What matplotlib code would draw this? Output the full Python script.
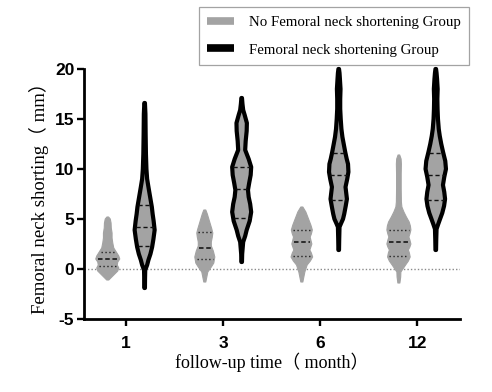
import numpy as np
from matplotlib import pyplot as plt
from matplotlib.lines import Line2D

plt.rcParams['axes.unicode_minus'] = False

months = ['1', '3', '6', '12']

# violin outlines: y levels (mm) and density (half width, px)
no_short_y = [
  [-1.1, -0.8, -0.5, -0.2, 0.1, 0.4, 0.7, 1.0, 1.3, 1.7, 2.1, 2.6, 3.1, 3.6, 4.1, 4.6, 5.0, 5.2],
  [-1.3, -0.8, -0.3, 0.2, 0.6, 1.2, 1.8, 2.3, 2.7, 3.2, 3.6, 4.0, 4.5, 5.0, 5.5, 5.9],
  [-1.3, -0.8, -0.3, 0.4, 0.8, 1.2, 1.6, 1.9, 2.2, 2.5, 2.9, 3.2, 3.5, 3.9, 4.4, 5.0, 5.7, 6.2],
  [-1.4, -0.8, -0.3, 0.4, 0.8, 1.2, 1.6, 1.9, 2.2, 2.5, 2.9, 3.2, 3.5, 3.9, 4.3, 4.7, 5.2, 5.7,
   6.2, 6.7, 8.0, 9.5, 10.5, 11.0, 11.4],
]
no_short_w = [
  [1, 4, 7, 10, 11, 9.5, 10, 12, 11, 8.5, 6, 5, 4.3, 4.3, 3.5, 3.3, 2.5, 0.8],
  [1, 2, 3, 6.5, 9, 10, 8.5, 6.5, 6.5, 7.5, 8, 7, 5.5, 4, 2.5, 1],
  [1, 2, 3, 5.3, 8.5, 10.8, 9.5, 8, 9, 10, 9, 8.3, 9.5, 10.5, 9, 6.7, 4, 1],
  [1, 1.8, 2, 6.7, 9.5, 11.3, 10.5, 9.5, 11, 12, 11, 10, 11, 12, 11.5, 10.3, 7.5, 5,
   3, 2.5, 2.3, 2.3, 2.5, 2.2, 0.8],
]
no_short_q = [[0.3, 1.05, 1.7], [1.0, 2.1, 3.7], [1.3, 2.7, 3.9], [1.3, 2.7, 3.9]]

short_y = [
  [-1.9, -1.0, -0.1, 0.4, 0.9, 1.5, 2.2, 3.0, 3.9, 4.8, 5.5, 6.2, 7.2, 8.2, 9.0, 10.0, 11.5,
   13.5, 15.5, 16.6],
  [0.7, 1.5, 2.7, 3.3, 3.9, 4.8, 5.7, 6.5, 7.2, 7.9, 8.6, 9.4, 10.2, 11.0, 11.9, 12.8, 13.8,
   14.6, 15.4, 15.9, 16.5, 17.1],
  [1.9, 3.0, 4.2, 4.6, 5.0, 5.5, 6.3, 7.0, 7.6, 8.2, 9.0, 9.7, 10.5, 11.0, 11.7, 12.5, 13.2,
   14.0, 15.0, 16.0, 17.0, 18.0, 19.0, 19.6, 20.0],
  [1.9, 3.0, 4.0, 4.5, 5.0, 5.6, 6.3, 7.0, 7.7, 8.4, 9.2, 10.0, 10.8, 11.7, 12.5, 13.3, 14.0,
   15.0, 16.0, 17.0, 18.0, 19.0, 19.6, 20.0],
]
short_w = [
  [0.3, 0.4, 0.6, 2.5, 3.8, 5.8, 7.5, 8.8, 10, 9, 8, 7.2, 5.5, 3.8, 2.5, 1.8, 1.3,
   1.0, 0.8, 0.3],
  [0.3, 0.5, 1.5, 3.5, 5, 8, 9.5, 8.5, 7, 6.3, 7.5, 9, 9.5, 7, 3.5, 4, 5,
   5.2, 3, 1.5, 0.8, 0.3],
  [0.3, 0.5, 0.8, 2.5, 4.3, 5.5, 7, 8.2, 7.5, 6.8, 8.5, 9.7, 9.3, 8, 6.5, 5, 3.7,
   2.7, 2, 1.5, 1.5, 1.8, 1.2, 0.8, 0.3],
  [0.3, 0.5, 0.8, 2.5, 4.3, 6.5, 8.3, 9.3, 8.5, 7.2, 8.5, 10.2, 9.5, 7.3, 5.5, 4, 3,
   2.2, 1.8, 1.6, 1.9, 1.3, 0.8, 0.3],
]
short_q = [[2.3, 4.2, 6.4], [5.1, 8.0, 10.15], [6.9, 9.4, 11.6], [6.9, 9.4, 11.6]]

GREY = '#a3a3a3'
scale = 1 / 97.0   # px of half width -> x units
offset = 0.19

fig = plt.figure(figsize=(4.92, 3.92), dpi=100)
ax = fig.add_axes([0.1707, 0.1862, 0.7643, 0.6378])


def violin(c, y, w, face, edge, lw):
  y = np.array(y)
  w = np.array(w) * scale
  xs = np.concatenate([c + w, (c - w)[::-1]])
  ys = np.concatenate([y, y[::-1]])
  ax.fill(xs, ys, facecolor=face, edgecolor=edge, lw=lw, joinstyle='round',
          clip_on=False, zorder=3)


ax.axhline(0, color='#8a8a8a', lw=1, ls=(0, (1, 1.5)), zorder=1)

for i in range(len(months)):
  # no shortening group (grey)
  c = i - offset
  violin(c, no_short_y[i], no_short_w[i], GREY, GREY, 0.8)
  for k, q in enumerate(no_short_q[i]):
    h = np.interp(q, no_short_y[i], no_short_w[i]) * scale * 0.85
    if k == 1:
      ax.plot([c - h, c + h], [q, q], color='#222', lw=1.3, ls=(0, (2.5, 1.5)), zorder=4)
    else:
      ax.plot([c - h, c + h], [q, q], color='#222', lw=1.0, ls=(0, (1, 1.8)), zorder=4)

  # shortening group (black outline)
  c = i + offset
  violin(c, short_y[i], short_w[i], GREY, 'black', 3.0)
  for q in short_q[i]:
    h = np.interp(q, short_y[i], short_w[i]) * scale * 0.92
    ax.plot([c - h, c + h], [q, q], color='#111', lw=1.0, ls=(0, (3, 2)), zorder=4)

ax.set_xlim(-0.435, 3.44)
ax.set_ylim(-5, 20)
ax.set_yticks([-5, 0, 5, 10, 15, 20])
ax.set_xticks(range(len(months)))
ax.set_xticklabels(months)

for s in ['top', 'right']:
  ax.spines[s].set_visible(False)
for s in ['left', 'bottom']:
  ax.spines[s].set_linewidth(2.0)
ax.tick_params(axis='both', length=5, width=1.7, labelsize=12.5)
ax.tick_params(axis='y', pad=2)
ax.tick_params(axis='x', pad=7)
for lab in ax.get_xticklabels() + ax.get_yticklabels():
  lab.set_fontfamily('Liberation Sans')
  lab.set_fontweight('bold')

serif = ['Liberation Serif', 'Noto Sans CJK SC']
ax.set_xlabel('follow-up time（ month）', fontsize=13, family=serif, labelpad=1)
ax.set_ylabel('Femoral neck shorting（ mm）', fontsize=13.5, family=serif, labelpad=4)

handles = [
  Line2D([], [], color=GREY, lw=5.5, solid_capstyle='butt'),
  Line2D([], [], color='black', lw=5.5, solid_capstyle='butt'),
]
leg = fig.legend(handles, ['No Femoral neck shortening Group', 'Femoral neck shortening Group'],
                 loc='upper right', bbox_to_anchor=(0.968, 1.0), frameon=True,
                 fancybox=False, edgecolor='#8c8c8c', handlelength=1.8,
                 handletextpad=1.0, labelspacing=0.95, borderpad=0.55,
                 prop={'family': 'Liberation Serif', 'size': 10.7})
leg.get_frame().set_linewidth(0.9)

fig.savefig('out.png', dpi=100)
